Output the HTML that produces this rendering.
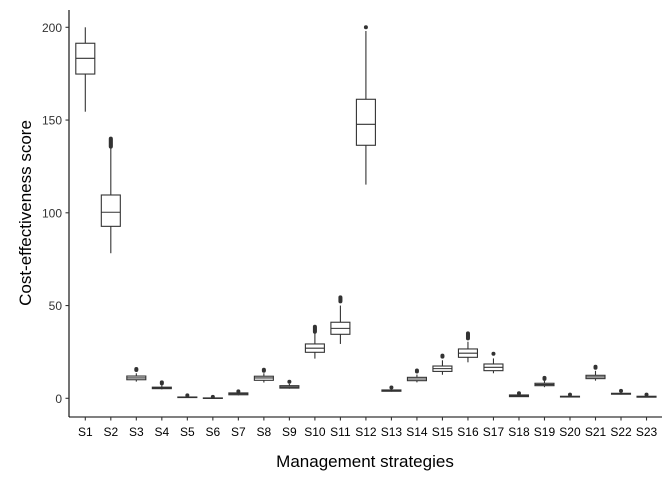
<!DOCTYPE html>
<html><head><meta charset="utf-8"><style>
html,body{margin:0;padding:0;background:#fff;}
svg{display:block;font-family:"Liberation Sans",sans-serif;}
</style></head><body>
<svg id="chart" width="672" height="480" viewBox="0 0 672 480" xmlns="http://www.w3.org/2000/svg">
<g id="plot"></g>
<line x1="69" y1="10" x2="69" y2="417" stroke="#000" stroke-width="1.1"/>
<line x1="69" y1="417" x2="662" y2="417" stroke="#000" stroke-width="1.1"/>
<g id="yticks"></g>
<g id="xticks"></g>
<text x="365" y="467" text-anchor="middle" font-size="17" fill="#000">Management strategies</text>
<text transform="translate(31,213) rotate(-90)" text-anchor="middle" font-size="17" fill="#000">Cost-effectiveness score</text>
</svg>
<script>
const categories=["S1","S2","S3","S4","S5","S6","S7","S8","S9","S10","S11","S12","S13","S14","S15","S16","S17","S18","S19","S20","S21","S22","S23"];
const whiskerLow=[154.5,78.2,9,4.8,0.3,-0.1,1.6,8.5,5.2,21.4,29.3,115.2,3.6,8.6,12.7,19.4,13.5,0.7,6,0.6,9.5,2,0.5];
const q1=[174.8,92.7,10,5.2,0.4,0,1.9,9.7,5.5,24.8,34.5,136.4,3.8,9.5,14.5,22.1,14.9,0.9,6.8,0.7,10.6,2.2,0.6];
const median=[183.3,100.3,11,5.6,0.5,0.1,2.4,11,6.1,27,37.7,147.7,4.1,10.4,16,24.3,16.7,1.3,7.4,0.9,11.5,2.4,0.8];
const q3=[191.4,109.6,12,6,0.7,0.2,2.9,11.9,6.8,29.3,41,161.2,4.5,11.3,17.4,26.6,18.5,1.8,8.1,1.1,12.4,2.7,1.1];
const whiskerHigh=[200,135,13.5,7,1,0.4,3.2,13.5,7.8,35,50,198,5,12.8,20.5,30.5,21.5,2.2,9.5,1.5,14.8,3.3,1.5];
const outlierLow=[null,135.3,15,8,1.4,0.6,3.5,14.5,8.4,35.9,52,200,5.5,14,22,32.3,23.5,2.5,10.3,1.9,16,3.8,1.9];
const outlierHigh=[null,140,15.8,8.6,1.6,0.8,3.7,15.4,8.9,38.6,54.4,200,5.8,15,23,35,24,2.7,11,2,17,4,2];
const yTicks=[0,50,100,150,200];

const NS="http://www.w3.org/2000/svg";
const y=v=>398.3-v*1.855;
const x=i=>85.3+i*25.51;
const plot=document.getElementById('plot');
function mk(tag,attrs,parent){const e=document.createElementNS(NS,tag);for(const k in attrs)e.setAttribute(k,attrs[k]);parent.appendChild(e);return e;}
const bw=19;
categories.forEach((c,i)=>{
  const g=mk('g',{},plot);
  
  
  const cx=x(i);
  const st={stroke:'#333','stroke-width':1.1,fill:'none'};
  mk('line',Object.assign({x1:cx,x2:cx,y1:y(whiskerHigh[i]),y2:y(q3[i])},st),g);
  mk('line',Object.assign({x1:cx,x2:cx,y1:y(q1[i]),y2:y(whiskerLow[i])},st),g);
  mk('rect',Object.assign({x:cx-bw/2,y:y(q3[i]),width:bw,height:Math.max(0.5,y(q1[i])-y(q3[i]))},st,{fill:'#fff'}),g);
  mk('line',Object.assign({x1:cx-bw/2,x2:cx+bw/2,y1:y(median[i]),y2:y(median[i])},st),g);
  if(outlierLow[i]!==null){
    const a=y(outlierHigh[i]),b=y(outlierLow[i]);
    for(let p=a;p<=b+0.01;p+=1){mk('circle',{cx:cx,cy:p,r:2,fill:'#333'},g);}
  }
});
const yt=document.getElementById('yticks');
yTicks.forEach(v=>{
  mk('line',{x1:65.5,x2:69,y1:y(v),y2:y(v),stroke:'#333','stroke-width':1.1},yt);
  const t=mk('text',{x:62,y:y(v)+4.5,'text-anchor':'end','font-size':12,fill:'#333'},yt);
  
  
  t.textContent=v;
});
const xt=document.getElementById('xticks');
categories.forEach((c,i)=>{
  mk('line',{x1:x(i),x2:x(i),y1:417,y2:420.5,stroke:'#333','stroke-width':1.1},xt);
  const t=mk('text',{x:x(i),y:436,'text-anchor':'middle','font-size':12,fill:'#000'},xt);
  
  
  t.textContent=c;
});
</script>
</body></html>
